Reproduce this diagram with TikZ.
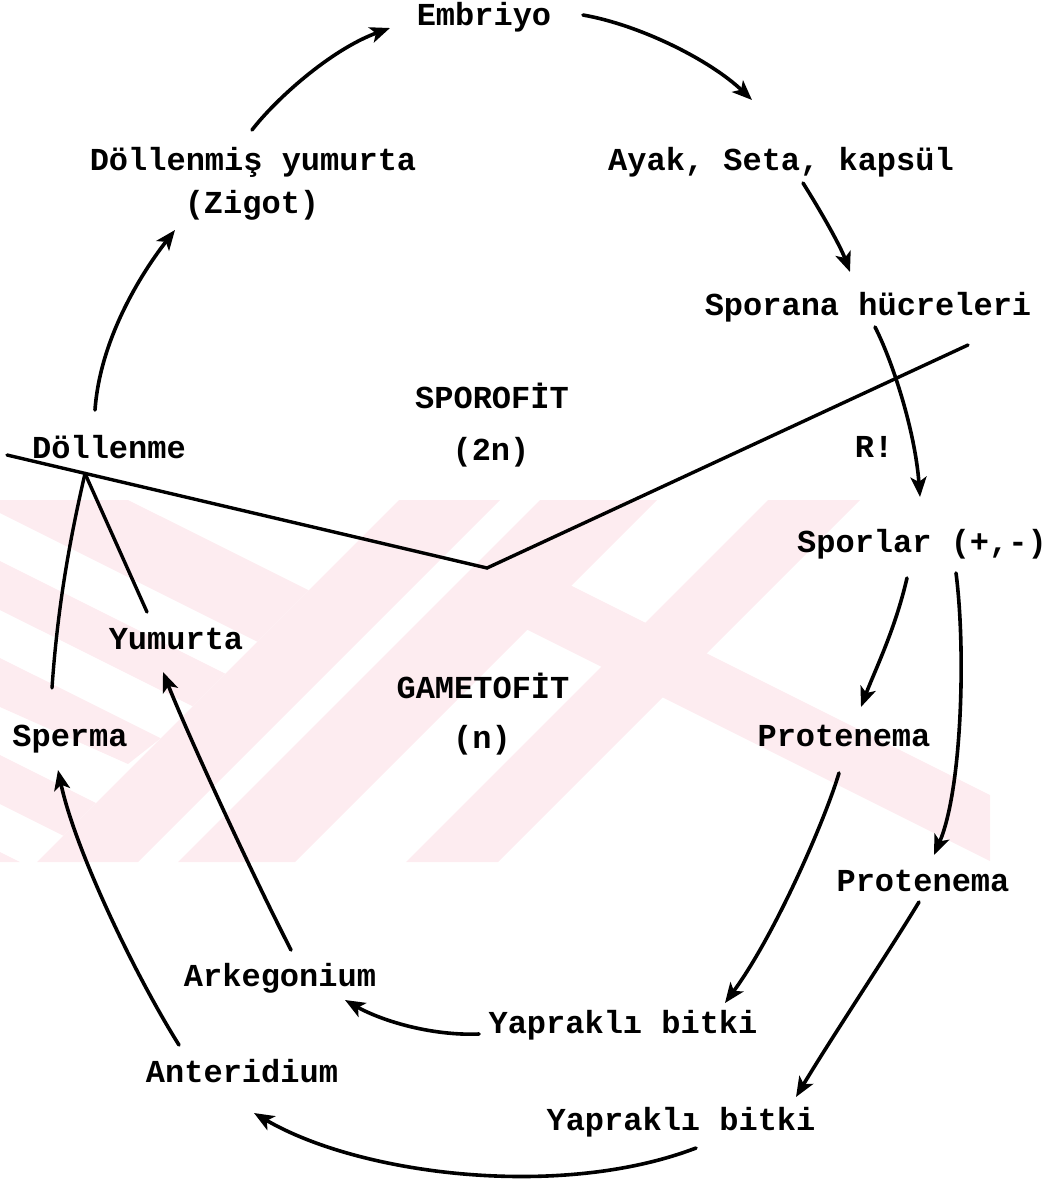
\documentclass[tikz,border=0pt]{standalone}
\usepackage{fontspec}
\setmainfont{Liberation Mono}
\usetikzlibrary{arrows.meta}
\definecolor{wm}{RGB}{253,236,240}
\begin{document}
\begin{tikzpicture}[x=1pt,y=-1pt,
  lbl/.style={inner sep=0pt, anchor=base, font=\fontsize{32}{36}\selectfont\bfseries},
  arr/.style={line width=3.6pt, line cap=round, -{Stealth[length=20pt,width=16pt,inset=5pt]}},
  ln/.style={line width=3.4pt, line cap=round, line join=miter}]
\useasboundingbox (0,0) rectangle (1055,1187);
% watermark
\begin{scope}
\clip (0,500) rectangle (990,862);
\fill[wm] (128,500) -- (308.7,590.3) -- (257.3,641.7) -- (0,513) -- (0,500) -- cycle;
\fill[wm] (0,561) -- (225.3,673.7) -- (192.7,706.3) -- (0,610) -- cycle;
\fill[wm] (0,658) -- (160.7,738.3) -- (128,764) -- (0,707) -- cycle;
\fill[wm] (0,755) -- (96,803) -- (63.3,835.7) -- (0,804) -- cycle;
\fill[wm] (0,852) -- (20,862) -- (0,862) -- cycle;
\fill[wm] (399,500) -- (500,500) -- (138,862) -- (37,862) -- cycle;
\fill[wm] (540,500) -- (657,500) -- (295,862) -- (178,862) -- cycle;
\fill[wm] (768,500) -- (860,500) -- (498,862) -- (406,862) -- cycle;
\fill[wm] (500,550) -- (990,795) -- (990,861) -- (500,616) -- cycle;
\end{scope}
% labels
\node[lbl] (emb) at (484,25) {Embriyo};
\node[lbl] (zig1) at (253,170) {Döllenmiş yumurta};
\node[lbl] (zig2) at (252,213) {(Zigot)};
\node[lbl] (ayak) at (781,170) {Ayak, Seta, kapsül};
\node[lbl] (spn) at (868,315) {Sporana hücreleri};
\node[lbl] (spf) at (492,408) {SPOROFİT};
\node[lbl] (n2) at (491,460) {(2n)};
\node[lbl] (dol) at (109,458) {Döllenme};
\node[lbl] (rr) at (874,457) {R!};
\node[lbl] (spl) at (922,552) {Sporlar (+,-)};
\node[lbl] (yum) at (176,649) {Yumurta};
\node[lbl] (gam) at (483,698) {GAMETOFİT};
\node[lbl] (nn) at (482,748) {(n)};
\node[lbl] (sp) at (70,746) {Sperma};
\node[lbl] (pr1) at (844,746) {Protenema};
\node[lbl] (pr2) at (923,891) {Protenema};
\node[lbl] (ark) at (280,986) {Arkegonium};
\node[lbl] (yap1) at (623,1033) {Yapraklı bitki};
\node[lbl] (ant) at (242,1082) {Anteridium};
\node[lbl] (yap2) at (681,1130) {Yapraklı bitki};
% separator line
\coordinate (sL) at (7,455);
\coordinate (apex) at (85,473.5);
\coordinate (sV) at (487,568);
\coordinate (sR) at (968,345);
\draw[ln] (sL) -- (sV) -- (sR);
% connector end points
\coordinate (zigT) at (252,130);
\coordinate (embH) at (390,28);
\coordinate (embT) at (583,15);
\coordinate (ayakH) at (752,100);
\coordinate (ayakT) at (803,183);
\coordinate (spnH) at (850,272);
\coordinate (spnT) at (875,327);
\coordinate (splH) at (920,497);
\coordinate (dolT) at (95,410);
\coordinate (zigH) at (175,230);
\coordinate (spT) at (52,688);
\coordinate (yumT) at (147,612);
\coordinate (splT1) at (907,578);
\coordinate (pr1H) at (861,707);
\coordinate (splT2) at (956,573);
\coordinate (pr2H) at (934,855);
\coordinate (pr1T) at (839,773);
\coordinate (yap1H) at (725,1003);
\coordinate (pr2T) at (919,902);
\coordinate (yap2H) at (796,1097);
\coordinate (yap1T) at (479,1034);
\coordinate (arkH) at (345,1000);
\coordinate (yap2T) at (696,1148);
\coordinate (antH) at (254,1113);
\coordinate (antT) at (179,1045);
\coordinate (spH) at (58,770);
\coordinate (arkT) at (291,950);
\coordinate (yumH) at (163,672);
% connectors
\draw[arr] (zigT) .. controls (275,100) and (330,50) .. (embH);
\draw[arr] (embT) .. controls (640,25) and (710,60) .. (ayakH);
\draw[arr] (ayakT) .. controls (820,210) and (840,245) .. (spnH);
\draw[arr] (spnT) .. controls (892,360) and (915,430) .. (splH);
\draw[arr] (dolT) .. controls (100,340) and (140,275) .. (zigH);
\draw[ln] (spT) .. controls (58,600) and (72,530) .. (apex);
\draw[ln] (yumT) -- (apex);
\draw[arr] (splT1) .. controls (895,630) and (875,670) .. (pr1H);
\draw[arr] (splT2) .. controls (966,650) and (962,790) .. (pr2H);
\draw[arr] (pr1T) .. controls (825,820) and (775,935) .. (yap1H);
\draw[arr] (pr2T) .. controls (890,950) and (830,1040) .. (yap2H);
\draw[arr] (yap1T) .. controls (430,1036) and (380,1020) .. (arkH);
\draw[arr] (yap2T) .. controls (560,1200) and (360,1175) .. (antH);
\draw[arr] (antT) .. controls (135,975) and (75,850) .. (spH);
\draw[arr] (arkT) .. controls (255,880) and (190,740) .. (yumH);
\end{tikzpicture}
\end{document}
